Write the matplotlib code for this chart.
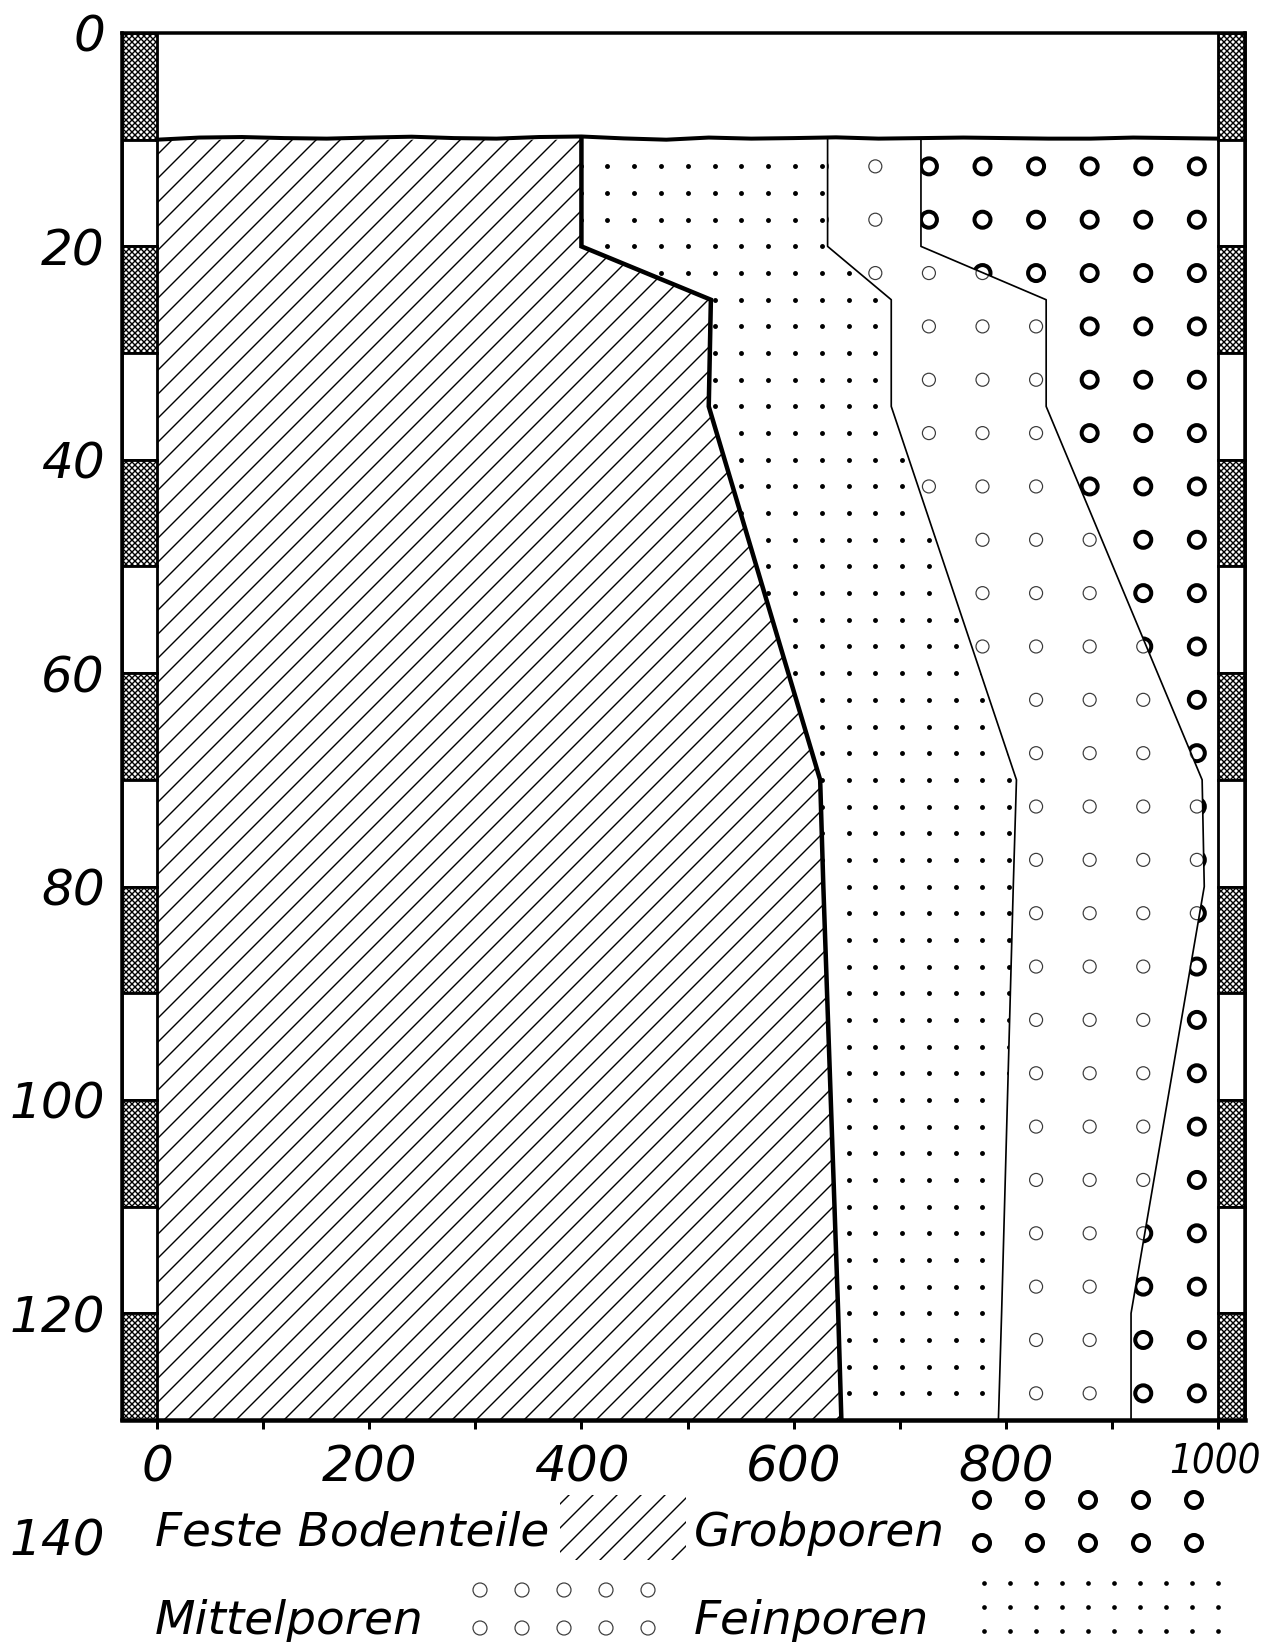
import numpy as np
import matplotlib
matplotlib.use("Agg")
import matplotlib.pyplot as plt
from matplotlib.patches import Rectangle

# ------------------------------------------------------------------ data
depth = [10, 20, 25, 35, 70, 80, 120, 130]                 # cm
feste = [400, 400, 522, 520, 625, 628, 642, 645]           # cumulative: Feste Bodenteile
fein = [632, 632, 692, 692, 810, 807, 796, 793]            # cumulative: + Feinporen
mittel = [720, 720, 838, 838, 985, 987, 918, 918]          # cumulative: + Mittelporen
total = [1000, 1000, 1000, 1000, 1000, 1000, 1000, 1000]   # cumulative: + Grobporen

surface_x = [0, 40, 80, 120, 160, 200, 240, 280, 320, 360, 400, 440, 480, 520,
             560, 600, 640, 680, 720, 760, 800, 840, 880, 920, 960, 1000]
surface_d = [10.0, 9.8, 9.75, 9.85, 9.9, 9.8, 9.72, 9.85, 9.9, 9.75, 9.7, 9.88,
             10.0, 9.8, 9.9, 9.85, 9.78, 9.9, 9.85, 9.8, 9.85, 9.9, 9.9, 9.8, 9.85, 9.9]

x_major = [0, 200, 400, 600, 800, 1000]
x_major_labels = ["0", "200", "400", "600", "800", "1000"]
x_minor = [100, 300, 500, 700, 900]
y_ticks = [0, 20, 40, 60, 80, 100, 120]
y_labels = ["0", "20", "40", "60", "80", "100", "120"]
extra_y_label = "140"
layer_blocks = list(range(0, 130, 10))   # side scale blocks (cm)

lbl_solid = "Feste Bodenteile"
lbl_grob = "Grobporen"
lbl_mittel = "Mittelporen"
lbl_fein = "Feinporen"

# ------------------------------------------------------------------ style
DPI = 72
W, H = 1264, 1642
plt.rcParams["font.family"] = ["DejaVu Sans"]
plt.rcParams["font.style"] = "oblique"
plt.rcParams["hatch.linewidth"] = 1.4

XMIN, XMAX = -33, 1025.4
DOT_DX, DOT_DY = 25.25, 2.5
CIR_DX, CIR_DY = 50.5, 5.0
X_ANCHOR, Y_ANCHOR = 980, 12.5

fig = plt.figure(figsize=(W / DPI, H / DPI), dpi=DPI)
fig.patch.set_facecolor("white")
ax = fig.add_axes([122 / W, 1 - 1420 / H, 1123 / W, 1387 / H])
ax.set_xlim(XMIN, XMAX)
ax.set_ylim(130, 0)
ax.set_facecolor("white")

# layers
p_solid = ax.fill_betweenx(depth, 0, feste, facecolor="white", edgecolor="black",
                           hatch="/", linewidth=0, zorder=1)
p_fein = ax.fill_betweenx(depth, feste, fein, facecolor="none", linewidth=0, zorder=1)
p_mittel = ax.fill_betweenx(depth, fein, mittel, facecolor="none", linewidth=0, zorder=1)
p_grob = ax.fill_betweenx(depth, mittel, total, facecolor="none", linewidth=0, zorder=1)

# texture grids
dx = X_ANCHOR - DOT_DX * np.arange(0, 26)
dy = Y_ANCHOR + DOT_DY * np.arange(0, 47)
DX, DY = np.meshgrid(dx, dy)
cx = X_ANCHOR - CIR_DX * np.arange(0, 10)
cy = Y_ANCHOR + CIR_DY * np.arange(0, 24)
CX, CY = np.meshgrid(cx, cy)

sc_fein = ax.scatter(DX.ravel(), DY.ravel(), s=24, c="black", linewidths=0, zorder=3)
sc_fein.set_clip_path(p_fein.get_paths()[0], ax.transData)
sc_mit = ax.scatter(CX.ravel(), CY.ravel(), s=13 ** 2, facecolors="none",
                    edgecolors="#3a3a3a", linewidths=1.2, zorder=3)
sc_mit.set_clip_path(p_mittel.get_paths()[0], ax.transData)
sc_grob = ax.scatter(CX.ravel(), CY.ravel(), s=16 ** 2, facecolors="none",
                     edgecolors="black", linewidths=4, zorder=3)
sc_grob.set_clip_path(p_grob.get_paths()[0], ax.transData)

# boundaries
ax.plot(feste, depth, color="black", lw=4.5, zorder=5, solid_joinstyle="miter")
ax.plot(fein, depth, color="black", lw=1.7, zorder=5)
ax.plot(mittel, depth, color="black", lw=1.7, zorder=5)
ax.plot(surface_x, surface_d, color="black", lw=4, zorder=6)

# side scale bars
for i, d0 in enumerate(layer_blocks):
    hatch = "xxxx" if i % 2 == 0 else None
    for x0, w in ((XMIN, -XMIN), (1000, XMAX - 1000)):
        ax.add_patch(Rectangle((x0, d0), w, 10, facecolor="white", edgecolor="black",
                               hatch=hatch, lw=2.8, zorder=4, clip_on=False))

for s in ax.spines.values():
    s.set_linewidth(3.5)
    s.set_zorder(7)
ax.spines["bottom"].set_linewidth(4.5)

ax.set_xticks(x_major)
ax.set_xticklabels(x_major_labels[:-1] + [""])
ax.set_xticks(x_minor, minor=True)
ax.tick_params(axis="x", which="both", direction="out", length=9, width=3,
               pad=14, labelsize=50)
ax.set_yticks(y_ticks)
ax.set_yticklabels(y_labels)
ax.tick_params(axis="y", length=0, pad=17, labelsize=50)

# ------------------------------------------------------------------ legend
lax = fig.add_axes([0, 0, 1, 1])
lax.set_xlim(0, W)
lax.set_ylim(H, 0)
lax.axis("off")
lax.patch.set_alpha(0)

# last x tick label squeezed at the right edge, as in the original
lax.text(1261, 1474, x_major_labels[-1], ha="right", va="baseline", fontsize=40,
         fontstretch="condensed")

lax.text(105, 1555, extra_y_label, ha="right", va="baseline", fontsize=50)
lax.text(155, 1546, lbl_solid, ha="left", va="baseline", fontsize=47)
lax.add_patch(Rectangle((560, 1495), 126, 65, facecolor="none", edgecolor="black",
                        hatch="/", lw=0))
lax.text(694, 1546, lbl_grob, ha="left", va="baseline", fontsize=47)
lax.text(155, 1634, lbl_mittel, ha="left", va="baseline", fontsize=47)
lax.text(694, 1634, lbl_fein, ha="left", va="baseline", fontsize=47)

gx = 982 + 53 * np.arange(5)
GX, GY = np.meshgrid(gx, [1500, 1543])
lax.scatter(GX.ravel(), GY.ravel(), s=16 ** 2, facecolors="none", edgecolors="black",
            linewidths=4)
mx = 480 + 42 * np.arange(5)
MX, MY = np.meshgrid(mx, [1590, 1628])
lax.scatter(MX.ravel(), MY.ravel(), s=14 ** 2, facecolors="none", edgecolors="#3a3a3a",
            linewidths=1.2)
fx = 984 + 26 * np.arange(10)
FX, FY = np.meshgrid(fx, [1583, 1607, 1631])
lax.scatter(FX.ravel(), FY.ravel(), s=22, c="black", linewidths=0)

fig.savefig("out.png", dpi=DPI, facecolor="white")
